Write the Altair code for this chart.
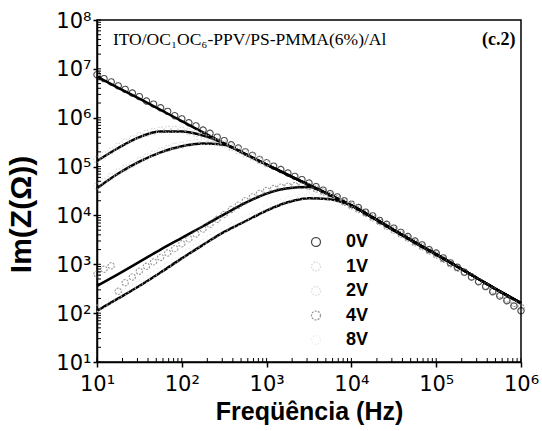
import altair as alt
import pandas as pd

# ---------------- data ----------------
series = ["0V", "1V", "2V", "4V", "8V"]

freq = [10, 12.1, 14.7, 17.8, 21.5, 26.1, 31.6, 38.3, 46.4, 56.2, 68.1, 82.5,
        100, 121, 147, 178, 215, 261, 316, 383, 464, 562, 681, 825,
        1000, 1210, 1470, 1780, 2150, 2610, 3160, 3830, 4640, 5620, 6810, 8250,
        10000, 12100, 14700, 17800, 21500, 26100, 31600, 38300, 46400, 56200, 68100, 82500,
        100000, 121000, 147000, 178000, 215000, 261000, 316000, 383000, 464000, 562000,
        681000, 825000, 1000000]

z_0V = [7.6e6, 6.3e6, 5.4e6, 4.5e6, 3.8e6, 3.2e6, 2.7e6, 2.2e6, 1.9e6, 1.6e6, 1.35e6, 1.1e6,
        9.5e5, 7.9e5, 6.8e5, 5.6e5, 4.8e5, 4.0e5, 3.4e5, 2.8e5, 2.4e5, 2.0e5, 1.7e5, 1.4e5,
        1.2e5, 1.02e5, 8.7e4, 7.4e4, 6.3e4, 5.4e4, 4.6e4, 3.9e4, 3.3e4, 2.8e4, 2.4e4, 2.0e4,
        1.7e4, 1.45e4, 1.17e4, 9.8e3, 7.9e3, 6.6e3, 5.5e3, 4.5e3, 3.7e3, 3.0e3, 2.5e3, 2.0e3,
        1.7e3, 1.35e3, 1.07e3, 870, 690, 550, 440, 350, 275, 225, 180, 140, 112]

z_1V = [1.4e5, 1.74e5, 2.1e5, 2.6e5, 3.2e5, 3.7e5, 4.3e5, 4.8e5, 5.2e5, 5.6e5, 5.8e5, 5.8e5,
        5.6e5, 5.2e5, 4.8e5, 4.4e5, 3.8e5, 3.3e5, 2.9e5, 2.45e5, 2.1e5, 1.8e5, 1.55e5, 1.3e5,
        1.12e5]

z_2V = [4.0e4, 5.0e4, 6.3e4, 7.8e4, 9.3e4, 1.12e5, 1.35e5, 1.58e5, 1.82e5, 2.1e5, 2.35e5, 2.6e5,
        2.75e5, 2.95e5, 3.1e5, 3.2e5, 3.2e5, 3.1e5, 2.95e5, 2.6e5, 2.3e5, 1.95e5, 1.66e5, 1.4e5,
        1.2e5]

z_4V = [630, 790, 930, 280, 420, 550, 720, 910, 1120, 1380, 1700, 2090,
        2630, 3310, 4170, 5250, 6610, 8320, 10500, 13200, 16200, 20000, 24000, 28200,
        32400, 35500, 38000, 39800, 40700, 40700, 38900, 34700, 30200, 25700, 21900, 18600,
        15800, 13200, 11000, 8900, 7400, 6000, 5000, 4100, 3400, 2750, 2290, 1860,
        1550, 1260, 1020, 830, 680, 550, 450, 360, 295, 240, 195, 158, 132]

z_8V = [126, 150, 185, 225, 275, 330, 410, 500, 620, 760, 950, 1180,
        1480, 1820, 2300, 2800, 3500, 4200, 5100, 6000, 7200, 8500, 10000, 11700,
        14100, 16200, 18600, 20900, 22900, 24500, 25100, 25100, 24500, 23400, 21400, 19500,
        17400]

fit_freq = [10, 17.8, 31.6, 56.2, 100, 178, 316, 562, 1000, 1780, 3160, 5620,
            10000, 17800, 31600, 56200, 100000, 178000, 316000, 562000, 1000000]

fit_0V = [6.9e6, 4.1e6, 2.45e6, 1.45e6, 8.5e5, 5.0e5, 3.0e5, 1.8e5, 1.1e5, 6.8e4, 4.2e4, 2.6e4,
          1.6e4, 9.1e3, 5.0e3, 2.8e3, 1.6e3, 890, 500, 280, 160]
fit_1V = [1.3e5, 2.4e5, 4.0e5, 5.2e5, 5.2e5, 4.3e5, 2.95e5, 1.8e5, 1.1e5, 6.8e4, 4.2e4, 2.6e4,
          1.6e4, 9.1e3, 5.0e3, 2.8e3, 1.6e3, 890, 500, 280, 160]
fit_2V = [3.6e4, 7.2e4, 1.26e5, 1.95e5, 2.6e5, 2.95e5, 2.8e5, 1.78e5, 1.1e5, 6.8e4, 4.2e4, 2.6e4,
          1.6e4, 9.1e3, 5.0e3, 2.8e3, 1.6e3, 890, 500, 280, 160]
fit_4V = [360, 630, 1120, 2000, 3470, 6000, 10500, 18000, 28000, 36000, 38000, 26000,
          1.6e4, 9.1e3, 5.0e3, 2.8e3, 1.6e3, 890, 500, 280, 160]
fit_8V = [112, 200, 360, 680, 1320, 2500, 4600, 7600, 12600, 18600, 22400, 21400,
          15800, 9100, 5.0e3, 2.8e3, 1.6e3, 890, 500, 280, 160]

decades_x = [10, 100, 1000, 10000, 100000, 1000000]
decades_y = [10, 100, 1000, 10000, 100000, 1000000, 10000000, 100000000]
minor_mult = [2, 3, 4, 5, 6, 7, 8, 9]

sample_label = "ITO/OC\u2081OC\u2086-PPV/PS-PMMA(6%)/Al"
panel_label = "(c.2)"

# ---------------- tables ----------------
meas = {"0V": z_0V, "1V": z_1V, "2V": z_2V, "4V": z_4V, "8V": z_8V}
fits = {"0V": fit_0V, "1V": fit_1V, "2V": fit_2V, "4V": fit_4V, "8V": fit_8V}

rows = []
for s in series:
    for f, z in zip(freq, meas[s]):
        rows.append({"f": f, "z": z, "s": s})
pts = pd.DataFrame(rows)

rows = []
for s in series:
    for f, z in zip(fit_freq, fits[s]):
        rows.append({"f": f, "z": z, "s": s})
fit_df = pd.DataFrame(rows)

minor_y = pd.DataFrame({"v": [m * d for d in decades_y[:-1] for m in [1] + minor_mult] + [decades_y[-1]]})
minor_x = pd.DataFrame({"v": [m * d for d in decades_x[:-1] for m in [1] + minor_mult] + [decades_x[-1]]})

W, H = 424, 342

sup = "['\u2070','\u00b9','\u00b2','\u00b3','\u2074','\u2075','\u2076','\u2077','\u2078','\u2079'][round(log(datum.value)/LN10)]"
lab_expr = "'10' + " + sup

xscale = alt.Scale(type="log", domain=[10, 1e6], nice=False)
yscale = alt.Scale(type="log", domain=[10, 1e8], nice=False)

xaxis = alt.Axis(values=decades_x, labelExpr=lab_expr, title="Freqüência (Hz)",
                 tickSize=5, tickWidth=1.5, tickColor="black", domainColor="black", domainWidth=1.5,
                 labelFont="DejaVu Sans", labelFontSize=21, labelColor="black", labelPadding=6,
                 labelFlush=False, labelOverlap=False,
                 titleFont="Liberation Sans", titleFontSize=25, titleFontWeight="bold",
                 titleColor="black", titlePadding=5, grid=False)
yaxis = alt.Axis(values=decades_y, labelExpr=lab_expr, title="Im(Z(\u03a9))",
                 tickSize=4, tickWidth=1.5, tickColor="black", domainColor="black", domainWidth=1.5,
                 labelFont="DejaVu Sans", labelFontSize=21, labelColor="black", labelPadding=2,
                 labelFlush=False, labelOverlap=False, labelOffset=1,
                 titleFont="Liberation Sans", titleFontSize=30, titleFontWeight="bold",
                 titleColor="black", titlePadding=19, titleY=194, grid=False)

base_fit = alt.Chart(fit_df).mark_line(strokeWidth=2.5, interpolate="monotone", color="black").encode(
    x=alt.X("f:Q", scale=xscale, axis=xaxis),
    y=alt.Y("z:Q", scale=yscale, axis=yaxis),
    detail="s:N",
)

legend = alt.Legend(title=None, orient="none", legendX=210, legendY=213,
                    direction="vertical", padding=0, rowPadding=6.5,
                    symbolSize=80, symbolStrokeWidth=1.2, symbolType="circle",
                    labelOffset=21, labelFontSize=18, labelFont="Liberation Sans",
                    labelFontWeight="bold", labelColor="black")

points = alt.Chart(pts).mark_point(shape="circle", filled=False, size=40, strokeWidth=1.1).encode(
    x=alt.X("f:Q", scale=xscale),
    y=alt.Y("z:Q", scale=yscale),
    stroke=alt.Stroke("s:N", scale=alt.Scale(domain=series,
                      range=["#000000", "#c4c4c4", "#cacaca", "#6a6a6a", "#e4e4e4"]),
                      legend=legend),
    strokeDash=alt.StrokeDash("s:N", scale=alt.Scale(domain=series,
                              range=[[1, 0], [1.5, 1.5], [1.5, 1.5], [2, 1.2], [1.5, 2]]),
                              legend=legend),
)

ticks_y = alt.Chart(minor_y).mark_rule(color="black", strokeWidth=1).encode(
    y=alt.Y("v:Q", scale=yscale), x=alt.value(0), x2=alt.value(4))
ticks_x = alt.Chart(minor_x).mark_rule(color="black", strokeWidth=1).encode(
    x=alt.X("v:Q", scale=xscale), y=alt.value(H), y2=alt.value(H - 4))

ann = pd.DataFrame({"f": [15.4], "z": [3.1e7], "t": [sample_label]})
ann2 = pd.DataFrame({"f": [8.6e5], "z": [3.1e7], "t": [panel_label]})
text1 = alt.Chart(ann).mark_text(align="left", baseline="alphabetic", font="Liberation Serif",
                                 fontSize=17.5, color="black").encode(
    x=alt.X("f:Q", scale=xscale), y=alt.Y("z:Q", scale=yscale), text="t:N")
text2 = alt.Chart(ann2).mark_text(align="right", baseline="alphabetic", font="Liberation Serif",
                                  fontSize=18, fontWeight="bold", color="black").encode(
    x=alt.X("f:Q", scale=xscale), y=alt.Y("z:Q", scale=yscale), text="t:N")

chart = alt.layer(base_fit, points, ticks_y, ticks_x, text1, text2).properties(
    width=W, height=H, autosize=alt.AutoSizeParams(type="none"),
    padding={"left": 97, "top": 20, "right": 21, "bottom": 69},
    background="white",
).configure_view(stroke="black", strokeWidth=1.5)

chart.save("out.html", embed_options={"renderer": "svg", "actions": False})
